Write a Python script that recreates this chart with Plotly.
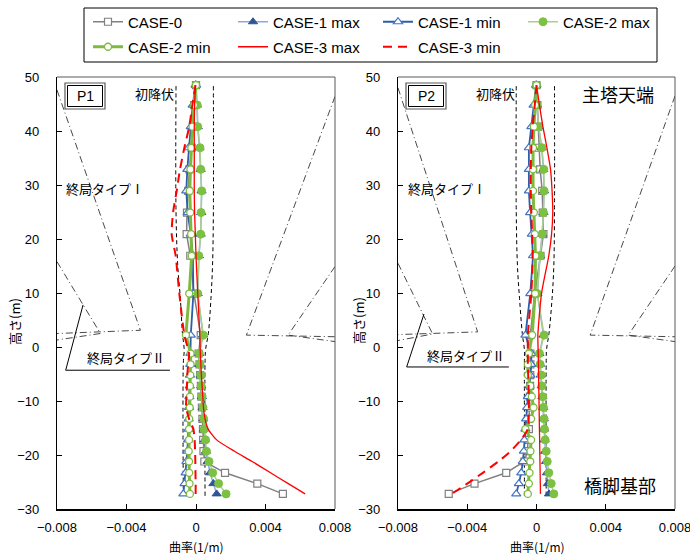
import plotly.graph_objects as go

# ---------------- data ----------------
H_UP = [48.5, 44.8, 40.8, 36.9, 32.9, 28.9, 24.9, 20.9, 16.9, 9.9, 2.2]
H_DN = [-1.2, -3.2, -5.2, -7.2, -9.2, -11.2, -13.3, -15.2, -17.2, -19.3, -21.2, -23.3, -25.3, -27.2]
HEIGHTS = H_UP + H_DN

SERIES = ["CASE-0", "CASE-1 max", "CASE-1 min", "CASE-2 max", "CASE-2 min", "CASE-3 max", "CASE-3 min"]

# P1 curvature (1/m)
P1_CASE0 = [0.0, -0.0001, -0.00018, -0.00025, -0.00038, -0.00045, -0.00052, -0.00054, -0.00033, -0.00012, 0.00027,
            0.00015, 0.0002, 0.00024, 0.00028, 0.00031, 0.00034, 0.00037, 0.0004, 0.00041, 0.00043, 0.00048, 0.00167, 0.00353, 0.005]
P1_CASE1_MAX = [0.0, 0.00005, 0.0001, 0.0002, 0.00027, 0.00032, 0.0003, 0.00027, 0.00017, 0.0001, 0.0004,
                0.00018, 0.00022, 0.00026, 0.0003, 0.00034, 0.00038, 0.00042, 0.00045, 0.0005, 0.00057, 0.00067, 0.00081, 0.001, 0.00119]
P1_CASE1_MIN = [-0.00002, -0.00019, -0.0003, -0.00042, -0.0005, -0.00056, -0.00048, -0.0003, -0.00018, -0.00015, -0.0003,
                -0.00032, -0.00033, -0.00035, -0.00036, -0.00038, -0.0004, -0.00042, -0.00044, -0.00046, -0.0005, -0.00055, -0.0006, -0.00066, -0.00073]
P1_CASE2_MAX = [0.0, 0.00007, 0.0001, 0.00023, 0.00027, 0.00033, 0.00029, 0.00027, 0.00016, 0.0001, 0.00042,
                0.00019, 0.00023, 0.00027, 0.0003, 0.00035, 0.0004, 0.00044, 0.00047, 0.00055, 0.0006, 0.00075, 0.00096, 0.0013, 0.00173]
P1_CASE2_MIN = [0.0, -0.00012, -0.0002, -0.00027, -0.00032, -0.00036, -0.00033, -0.00028, -0.00025, -0.00039, -0.00058,
                -0.00031, -0.00031, -0.00033, -0.00035, -0.00035, -0.00036, -0.00039, -0.0004, -0.0004, -0.00042, -0.0004, -0.00039, -0.00037, -0.00035]
P1_CASE3_MAX = [-0.00003, -0.00008, -0.0001, -0.0001, -0.0001, -0.0001, -0.00008, -0.00004, 0.0, 0.0001, 0.00022,
                0.00025, 0.00028, 0.00031, 0.00035, 0.00039, 0.00043, 0.00052, 0.0007, 0.00119, 0.00221, 0.00323, 0.00429, 0.00531, 0.00628]
P1_CASE3_MIN = [-0.00003, -0.00021, -0.00039, -0.00067, -0.00092, -0.00111, -0.00132, -0.0014, -0.00117, -0.00096, -0.00067,
                -0.0004, -0.00045, -0.0005, -0.00052, -0.00055, -0.00057, -0.0004, -0.00015, -0.00008, -0.00005, -0.00004, -0.00003, -0.00002, -0.00002]

# P2 curvature (1/m)
P2_CASE0 = [0.0, 0.00005, 0.0001, 0.00013, 0.00021, 0.00033, 0.00036, 0.0004, 0.00023, -0.0001, -0.00036,
            -0.00035, -0.00035, -0.00036, -0.00037, -0.00038, -0.0004, -0.00042, -0.00044, -0.00047, -0.00052, -0.0007, -0.00175, -0.00358, -0.00507]
P2_CASE1_MAX = [0.0, 0.00002, 0.00012, 0.0003, 0.0004, 0.00043, 0.0004, 0.00033, 0.0002, 0.00005, 0.0004,
                0.00017, 0.0002, 0.00025, 0.0003, 0.00034, 0.00038, 0.00042, 0.00044, 0.00047, 0.0005, 0.00055, 0.0006, 0.00066, 0.00072]
P2_CASE1_MIN = [-0.00002, -0.00017, -0.0003, -0.00044, -0.00044, -0.00044, -0.00037, -0.00027, -0.0002, -0.00036, -0.00064,
                -0.0003, -0.0003, -0.00035, -0.0004, -0.0005, -0.00054, -0.0006, -0.00064, -0.0007, -0.00073, -0.00079, -0.00088, -0.00102, -0.00117]
P2_CASE2_MAX = [0.0, 0.00002, 0.00012, 0.00031, 0.00042, 0.00044, 0.0004, 0.00033, 0.00021, 0.00004, 0.00044,
                0.00017, 0.00021, 0.00027, 0.00031, 0.00036, 0.0004, 0.00044, 0.00046, 0.0005, 0.00056, 0.00062, 0.00071, 0.00085, 0.001]
P2_CASE2_MIN = [0.0, -0.00008, -0.00015, -0.0002, -0.0002, -0.0002, -0.00015, -0.0001, -0.00006, -0.00008, -0.00025,
                -0.00044, -0.0005, -0.0005, -0.00036, -0.00027, -0.00017, -0.00031, -0.00064, -0.00031, -0.00035, -0.00036, -0.0004, -0.00044, -0.0005]
P2_CASE3_MAX = [0.0, 0.00017, 0.00037, 0.0006, 0.00081, 0.0009, 0.00094, 0.00087, 0.00071, 0.00029, 0.00008,
                0.0001, 0.00011, 0.00012, 0.00013, 0.00014, 0.00015, 0.00016, 0.00017, 0.00018, 0.00019, 0.0002, 0.00021, 0.00022, 0.00023]
P2_CASE3_MIN = [0.0, -0.0001, -0.00022, -0.0003, -0.00033, -0.00033, -0.0003, -0.00025, -0.00022, -0.0003, -0.0005,
                -0.0005, -0.0005, -0.00048, -0.00046, -0.00045, -0.00044, -0.00045, -0.0005, -0.0009, -0.0015, -0.0022, -0.0031, -0.004, -0.0049]

# yield (初降伏) envelopes
YIELD_H = [48.3, 25, 15, 9, 2.5, -0.5, -3, -27.6]
P1_YIELD_L = [-0.00115, -0.00115, -0.00105, -0.0009, -0.00078, -0.00068, -0.00073, -0.00073]
P1_YIELD_R = [0.001, 0.001, 0.00095, 0.00086, 0.00071, 0.00055, 0.00052, 0.00052]
P2_YIELD_L = [-0.00117, -0.00117, -0.0011, -0.00098, -0.00082, -0.0007, -0.0007, -0.0007]
P2_YIELD_R = [0.00104, 0.00104, 0.001, 0.0009, 0.00072, 0.00058, 0.00056, 0.00056]

# ultimate envelopes (終局タイプI / II): (curvature, height) polylines
P1_ULT1_L = ([-0.008, -0.0032, -0.008], [47.6, 3.1, 2.5])
P1_ULT2_L = ([-0.008, -0.0055, -0.008], [15.8, 2.5, 1.3])
P1_ULT1_R = ([0.008, 0.0029, 0.008], [46.4, 2.2, 1.9])
P1_ULT2_R = ([0.008, 0.0053, 0.008], [14.9, 2.2, 1.0])
P2_ULT1_L = ([-0.008, -0.0034, -0.008], [48.0, 2.8, 2.3])
P2_ULT2_L = ([-0.008, -0.006, -0.008], [15.5, 2.4, 1.2])
P2_ULT1_R = ([0.008, 0.0031, 0.008], [46.5, 2.2, 1.9])
P2_ULT2_R = ([0.008, 0.0053, 0.008], [15.0, 2.2, 1.0])

# callout pointer for 終局タイプII
P1_CALLOUT = ([-0.0065, -0.0075, -0.0015], [7.8, -4.3, -4.3])
P2_CALLOUT = ([-0.0065, -0.0075, -0.0016], [6.1, -3.7, -3.7])

X_TICKS = [-0.008, -0.004, 0, 0.004, 0.008]
X_TICKTEXT = ["\u22120.008", "\u22120.004", "0", "0.004", "0.008"]
Y_TICKS = [-30, -20, -10, 0, 10, 20, 30, 40, 50]
Y_TICKTEXT = ["\u221230", "\u221220", "\u221210", "0", "10", "20", "30", "40", "50"]

# ---------------- layout helpers ----------------
W, HGT = 690, 555
L, R, T, B = 57, 15, 77, 46
PW, PH = W - L - R, HGT - T - B


def px(x):
    return (x - L) / PW


def py(y):
    return (HGT - B - y) / PH


LATIN = "Liberation Sans, Arial, sans-serif"
CJK = "Noto Sans CJK JP, sans-serif"

STYLES = {
    "CASE-0": dict(mode="lines+markers", line=dict(color="#808080", width=1.5),
                   marker=dict(symbol="square", size=7, color="white", line=dict(color="#808080", width=1.2))),
    "CASE-1 max": dict(mode="lines+markers", line=dict(color="#8EA9DB", width=1.5),
                       marker=dict(symbol="triangle-up", size=8, color="#2F5597", line=dict(color="#2F5597", width=1))),
    "CASE-1 min": dict(mode="lines+markers", line=dict(color="#2F5DA8", width=1.8),
                       marker=dict(symbol="triangle-up", size=8, color="white", line=dict(color="#4472C4", width=1.2))),
    "CASE-2 max": dict(mode="lines+markers", line=dict(color="#A9D18E", width=1.5),
                       marker=dict(symbol="circle", size=8, color="#7DC142", line=dict(color="#7DC142", width=1))),
    "CASE-2 min": dict(mode="lines+markers", line=dict(color="#7DBB3E", width=3),
                       marker=dict(symbol="circle", size=7, color="white", line=dict(color="#7DBB3E", width=1.3))),
    "CASE-3 max": dict(mode="lines", line=dict(color="#FF0000", width=1.3, shape="spline", smoothing=0.6)),
    "CASE-3 min": dict(mode="lines", line=dict(color="#FF0000", width=2, dash="9px,6px", shape="spline", smoothing=0.6)),
}

P1_DATA = [P1_CASE0, P1_CASE1_MAX, P1_CASE1_MIN, P1_CASE2_MAX, P1_CASE2_MIN, P1_CASE3_MAX, P1_CASE3_MIN]
P2_DATA = [P2_CASE0, P2_CASE1_MAX, P2_CASE1_MIN, P2_CASE2_MAX, P2_CASE2_MIN, P2_CASE3_MAX, P2_CASE3_MIN]

fig = go.Figure()

DASHDOT = "7px,3px,1px,3px"


def add_ref(xv, yv, xa, ya, dash, width=1, color="#000000", shape="linear"):
    fig.add_trace(go.Scatter(x=xv, y=yv, xaxis=xa, yaxis=ya, mode="lines",
                             line=dict(color=color, width=width, dash=dash, shape=shape),
                             showlegend=False, hoverinfo="skip"))


for (xa, ya, yl, yr, ults, call) in [
    ("x", "y", P1_YIELD_L, P1_YIELD_R, [P1_ULT1_L, P1_ULT2_L, P1_ULT1_R, P1_ULT2_R], P1_CALLOUT),
    ("x2", "y2", P2_YIELD_L, P2_YIELD_R, [P2_ULT1_L, P2_ULT2_L, P2_ULT1_R, P2_ULT2_R], P2_CALLOUT),
]:
    add_ref(yl, YIELD_H, xa, ya, "4px,3px", 1, shape="spline")
    add_ref(yr, YIELD_H, xa, ya, "4px,3px", 1, shape="spline")
    for u in ults:
        add_ref(u[0], u[1], xa, ya, DASHDOT, 0.9, "#333333")
    add_ref(call[0], call[1], xa, ya, "solid", 1, "#000000")

for i, name in enumerate(SERIES):
    row = 1 if i < 4 else 2
    fig.add_trace(go.Scatter(x=P1_DATA[i], y=HEIGHTS, name=name, xaxis="x", yaxis="y",
                             legend="legend" if row == 1 else "legend2", **STYLES[name]))
for i, name in enumerate(SERIES):
    fig.add_trace(go.Scatter(x=P2_DATA[i], y=HEIGHTS, name=name, xaxis="x2", yaxis="y2",
                             showlegend=False, **STYLES[name]))

xcommon = dict(range=[-0.008, 0.008], tickvals=X_TICKS, ticktext=X_TICKTEXT, ticks="inside", ticklen=5,
               tickcolor="#000", showline=True, linecolor="#000", linewidth=2, showgrid=False, zeroline=False,
               tickfont=dict(family=LATIN, size=13, color="#000"), ticklabelstandoff=5,
               ticklabeloverflow="allow")
ycommon = dict(range=[-30, 50], tickvals=Y_TICKS, ticktext=Y_TICKTEXT, ticks="inside", ticklen=5,
               tickcolor="#000", showline=True, linecolor="#000", linewidth=1.2, showgrid=False, zeroline=False,
               tickfont=dict(family=LATIN, size=13, color="#000"), ticklabelstandoff=14,
               ticklabeloverflow="allow")

d1 = [0, px(335)]
d2 = [px(398), 1]

legend_common = dict(orientation="h", bgcolor="rgba(0,0,0,0)", borderwidth=0,
                     font=dict(family=LATIN, size=15, color="#000"), entrywidth=100,
                     xanchor="left", yanchor="middle", itemclick=False, itemdoubleclick=False)

fig.update_layout(
    width=W, height=HGT, margin=dict(l=L, r=R, t=T, b=B, autoexpand=False),
    paper_bgcolor="white", plot_bgcolor="white",
    xaxis=dict(domain=d1, anchor="y", **xcommon),
    yaxis=dict(domain=[0, 1], anchor="x", **ycommon),
    xaxis2=dict(domain=d2, anchor="y2", **xcommon),
    yaxis2=dict(domain=[0, 1], anchor="x2", **ycommon),
    legend=dict(x=px(88), y=py(22), **legend_common),
    legend2=dict(x=px(88), y=py(47), **legend_common),
    showlegend=True,
)

shapes = []
# legend frame
shapes.append(dict(type="rect", xref="paper", yref="paper", x0=px(84), x1=px(657), y0=py(62), y1=py(8),
                   line=dict(color="#000", width=1)))
# top/right frame of each plot
for xr, yr in [("x domain", "y domain"), ("x2 domain", "y2 domain")]:
    shapes.append(dict(type="line", xref=xr, yref=yr, x0=0, x1=1, y0=1, y1=1, line=dict(color="#595959", width=1)))
    shapes.append(dict(type="line", xref=xr, yref=yr, x0=1, x1=1, y0=0, y1=1, line=dict(color="#595959", width=1)))
# P1 / P2 double boxes
for x0 in (65, 406):
    shapes.append(dict(type="rect", xref="paper", yref="paper", x0=px(x0), x1=px(x0 + 40), y0=py(109), y1=py(83),
                       line=dict(color="#595959", width=1.2)))
    shapes.append(dict(type="rect", xref="paper", yref="paper", x0=px(x0 + 2.5), x1=px(x0 + 37.5), y0=py(106.5), y1=py(85.5),
                       line=dict(color="#000", width=1)))
fig.update_layout(shapes=shapes)

ann = []


def A(text, x, y, size=13, fam=CJK, angle=0, xanchor="center"):
    ann.append(dict(text=text, x=px(x), y=py(y), xref="paper", yref="paper", showarrow=False,
                    font=dict(family=fam, size=size, color="#000"), textangle=angle, xanchor=xanchor,
                    yanchor="middle"))


A("P1", 85, 96, 14, LATIN)
A("P2", 426, 96, 14, LATIN)
A("初降伏", 154, 93, 13)
A("初降伏", 495, 93, 13)
A("終局タイプⅠ", 105, 188, 13)
A("終局タイプⅠ", 447, 188, 13)
A("終局タイプⅡ", 126, 357, 13)
A("終局タイプⅡ", 466, 355, 13)
A("主塔天端", 618, 94, 18)
A("橋脚基部", 620, 485, 18)
A("高さ(m)", 14, 321, 13, angle=-90)
A("高さ(m)", 358, 321, 13, angle=-90)
A("曲率(1/m)", 196, 546, 12)
A("曲率(1/m)", 537, 546, 12)
fig.update_layout(annotations=ann)

fig.write_html("out.html")
